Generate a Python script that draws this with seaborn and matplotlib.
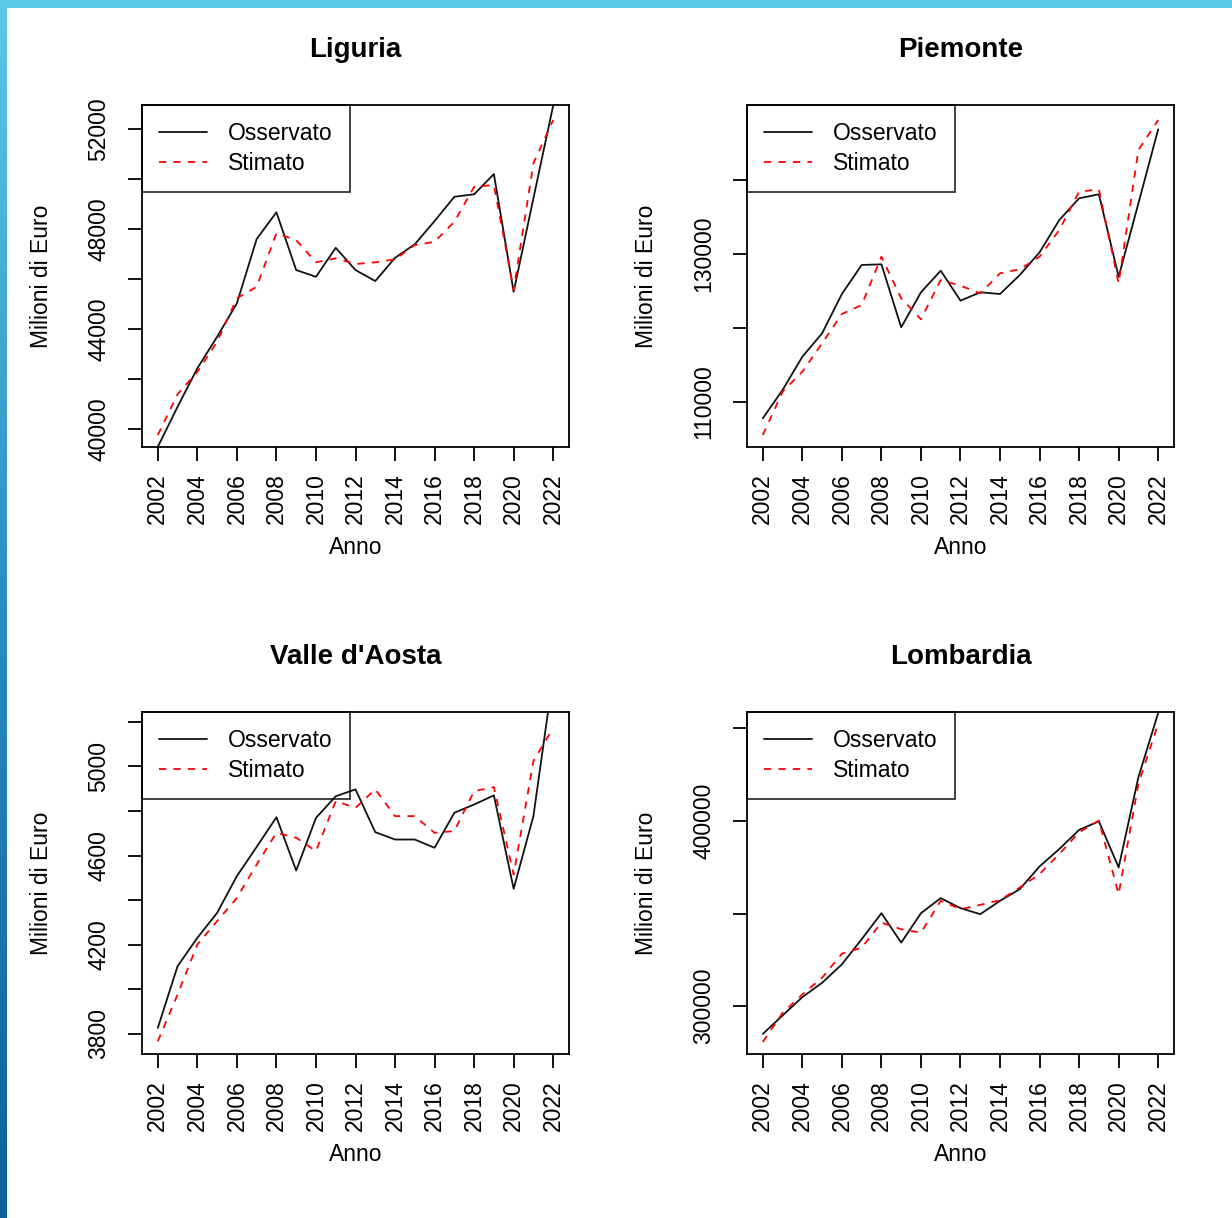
import numpy as np
import pandas as pd
import matplotlib
matplotlib.use("Agg")
import matplotlib.pyplot as plt
import seaborn as sns

anni = list(range(2002, 2023))

# Liguria
lig_oss = [39300, 40900, 42440, 43700, 45040, 47610, 48680, 46370, 46100, 47260, 46370,
           45930, 46860, 47400, 48330, 49300, 49400, 50210, 45500, 49240, 52950]
lig_stim = [39770, 41400, 42300, 43500, 45240, 45700, 47840, 47570, 46680, 46840, 46610,
            46680, 46800, 47370, 47500, 48300, 49700, 49770, 45570, 50640, 52370]

# Piemonte
pie_oss = [107760, 111580, 116080, 119240, 124550, 128470, 128560, 120050, 124780, 127700, 123650,
           124780, 124550, 127120, 130180, 134550, 137480, 138020, 126890, 136800, 146800]
pie_stim = [105500, 111350, 114050, 117890, 121850, 123060, 129590, 123970, 121130, 126440, 125670,
            124640, 127350, 127890, 129590, 133200, 138370, 138690, 126000, 144000, 148060]

# Valle d'Aosta
vda_oss = [3827, 4104, 4231, 4343, 4508, 4639, 4772, 4533, 4769, 4866, 4897,
           4705, 4672, 4672, 4635, 4792, 4829, 4870, 4451, 4777, 5410]
vda_stim = [3767, 3977, 4201, 4306, 4410, 4560, 4702, 4680, 4620, 4844, 4814,
            4897, 4777, 4777, 4702, 4710, 4889, 4907, 4515, 5024, 5173]

# Lombardia
lom_oss = [285000, 294960, 304870, 312620, 322580, 336120, 350200, 334280, 350200, 358320, 352900,
           349650, 356860, 363190, 375430, 384850, 395140, 399800, 374890, 423630, 458280]
lom_stim = [280670, 296370, 306340, 315320, 328320, 331570, 345110, 341530, 339690, 356860, 352360,
            354690, 357240, 364060, 371320, 382150, 393850, 400180, 360490, 420050, 452540]

regioni = ["Liguria", "Piemonte", "Valle d'Aosta", "Lombardia"]
osservati = [lig_oss, pie_oss, vda_oss, lom_oss]
stimati = [lig_stim, pie_stim, vda_stim, lom_stim]

# assi y: limiti, tick, tick con etichetta
ylims = [(39292, 52972), (103880, 150084), (3710, 5244), (274170, 458800)]
yticks = [list(range(40000, 52001, 2000)), [110000, 120000, 130000, 140000],
          list(range(3800, 5201, 200)), [300000, 350000, 400000, 450000]]
ylabeled = [[40000, 44000, 48000, 52000], [110000, 130000],
            [3800, 4200, 4600, 5000], [300000, 400000]]
xticks = list(range(2002, 2023, 2))

sns.set_theme(style="ticks")
plt.rcParams['font.family'] = ['Liberation Sans', 'DejaVu Sans']

W, H = 1232, 1218
fig = plt.figure(figsize=(W / 100, H / 100), dpi=100)

# cornice blu
top = fig.add_axes([0, 1 - 8 / H, 1, 8 / H])
top.set_facecolor("#5ac8e6")
top.set_xticks([]); top.set_yticks([])
for s in top.spines.values():
    s.set_visible(False)
left = fig.add_axes([0, 0, 7 / W, 1 - 8 / H])
grad = np.linspace(0, 1, 256).reshape(-1, 1)
cmap = matplotlib.colors.LinearSegmentedColormap.from_list("bordo", ["#5ac8e6", "#2a8cc0", "#0f5f9a"])
left.imshow(grad, aspect="auto", cmap=cmap)
left.axis("off")

pos = [(142, 105), (747, 105), (142, 712), (747, 712)]
aw, ah = 427, 342

for i, reg in enumerate(regioni):
    x0, y0 = pos[i]
    ax = fig.add_axes([x0 / W, 1 - (y0 + ah) / H, aw / W, ah / H])
    df = pd.DataFrame({"Anno": anni, "Osservato": osservati[i], "Stimato": stimati[i]})
    sns.lineplot(data=df, x="Anno", y="Osservato", ax=ax, color="#111111", lw=1.3, label="Osservato")
    sns.lineplot(data=df, x="Anno", y="Stimato", ax=ax, color="#ff0000", lw=1.3, label="Stimato")
    ax.lines[1].set_dashes((4, 4))
    ax.set_xlim(2001.2, 2022.8)
    ax.set_ylim(*ylims[i])
    ax.set_xticks(xticks)
    ax.set_xticklabels([str(a) for a in xticks], rotation=90)
    ax.set_yticks(yticks[i])
    ax.set_yticklabels([str(v) if v in ylabeled[i] else "" for v in yticks[i]],
                       rotation=90, va="center")
    ax.tick_params(axis="both", length=10, width=1.3, color="black", labelsize=16.5,
                   labelcolor="black")
    ax.tick_params(axis="x", pad=9)
    ax.tick_params(axis="y", pad=13)
    for s in ax.spines.values():
        s.set_color("black")
        s.set_linewidth(1.3)
    ax.set_xlabel("Anno", fontsize=16.5, color="black")
    ax.xaxis.set_label_coords(0.5, -0.295)
    ax.xaxis.label.set_va("center")
    ax.set_ylabel("Milioni di Euro", fontsize=16.5, color="black")
    ax.yaxis.set_label_coords(-0.2365, 0.5)
    ax.yaxis.label.set_va("center")
    ax.set_title(reg, fontsize=20, fontweight="bold", color="black", y=1.16, pad=0, va="center")
    leg = ax.legend(loc="upper left", bbox_to_anchor=(0, 1), borderaxespad=0, fontsize=16.5,
                    frameon=True, fancybox=False, handlelength=2.1, handletextpad=0.9,
                    labelspacing=0.3, borderpad=0.75)
    fr = leg.get_frame()
    fr.set_facecolor("none")
    fr.set_edgecolor("black")
    fr.set_linewidth(1.3)
    for t in leg.get_texts():
        t.set_color("black")

fig.savefig("out.png", dpi=100, facecolor="white")
